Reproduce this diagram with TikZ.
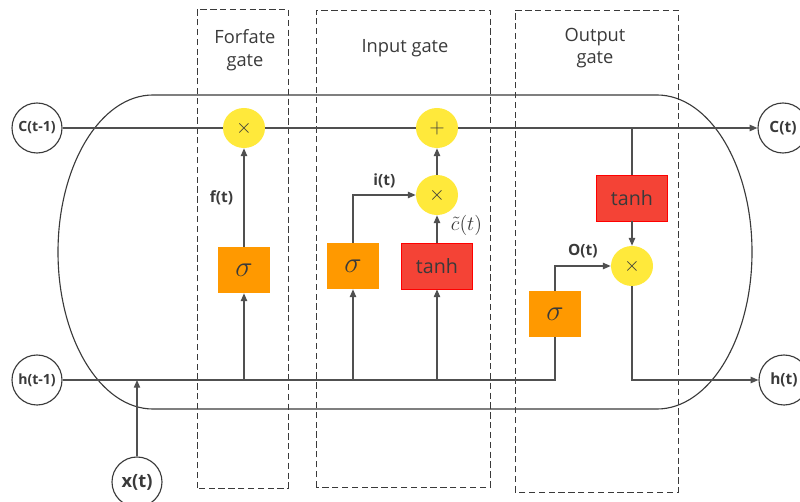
\documentclass[tikz,border=0pt]{standalone}
\usepackage{fontspec}
\setmainfont{Open Sans}
\setsansfont{Open Sans}
\usetikzlibrary{arrows.meta,positioning,calc,shapes.geometric}

\definecolor{wire}{HTML}{505050}
\definecolor{ink}{HTML}{3A3A3A}
\definecolor{opyellow}{HTML}{FFE93B}
\definecolor{sigorange}{HTML}{FF9900}
\definecolor{tanhred}{HTML}{F44336}

\begin{document}
\begin{tikzpicture}[
  x=0.025cm, y=0.025cm,
  line/.style={draw=wire, line width=0.9pt},
  arr/.style={line, -{Triangle[length=5.5pt,width=4.5pt]}},
  gatebox/.style={draw=ink, dash pattern=on 4.5pt off 2.5pt, line width=0.7pt},
  cell/.style={draw=ink, line width=0.8pt},
  state/.style={circle, draw=ink, line width=0.8pt, fill=white, minimum size=1.25cm, inner sep=0pt, text=ink, font=\fontsize{10}{12}\selectfont\bfseries},
  op/.style={ellipse, fill=opyellow, minimum width=1.05cm, minimum height=1.0cm, inner sep=0pt, text=ink, font=\fontsize{14}{16}\selectfont},
  sig/.style={fill=sigorange, minimum width=1.3cm, minimum height=1.15cm, inner sep=0pt, text=ink, font=\fontsize{22}{24}\selectfont},
  act/.style={fill=tanhred, draw=red, line width=0.5pt, minimum width=1.77cm, minimum height=1.15cm, inner sep=0pt, text=ink, font=\fontsize{14}{16}\selectfont},
  title/.style={align=center, text=ink, font=\fontsize{13}{16}\selectfont},
  lab/.style={text=ink, font=\fontsize{11}{13}\selectfont\bfseries}
]
\useasboundingbox (0,0) rectangle (800,501);

\draw[cell] (153,406) -- (657,406) arc[start angle=90, end angle=-90, x radius=95, y radius=157]
  -- (153,92) arc[start angle=270, end angle=90, x radius=95, y radius=157] -- cycle;

\draw[gatebox] (197,13) rectangle (288,492);
\draw[gatebox] (316,14) rectangle (490,491);
\draw[gatebox] (515,9) rectangle (678,491);

\node[title] at (245,451) {Forfate\\gate};
\node[title] at (405,453) {Input gate};
\node[title] at (595,453) {Output\\gate};

\node[state] (cprev) at (37,373) {C(t-1)};
\node[state] (hprev) at (37,121) {h(t-1)};
\node[state, font=\fontsize{13}{15}\selectfont\bfseries] (xt) at (137,19) {x(t)};
\node[state, font=\fontsize{11}{13}\selectfont\bfseries] (ct) at (783,373) {C(t)};
\node[state, font=\fontsize{11}{13}\selectfont\bfseries] (ht) at (784,121) {h(t)};

\node[op] (mulf) at (244,373) {$\times$};
\node[op] (addc) at (437,373) {$+$};
\node[op] (muli) at (437,306) {$\times$};
\node[op] (mulo) at (632,235) {$\times$};

\node[sig] (sigf) at (244,231) {$\sigma$};
\node[sig] (sigi) at (353,235) {$\sigma$};
\node[act] (tanhi) at (437,235) {tanh};
\node[sig] (sigo) at (555,187) {$\sigma$};
\node[act] (tanho) at (632,303) {tanh};

\coordinate (tap) at (tanho |- cprev);
\coordinate (xin) at (xt |- hprev);
\coordinate (bf) at (sigf |- hprev);
\coordinate (bi) at (sigi |- hprev);
\coordinate (bt) at (tanhi |- hprev);

\draw[line] (cprev) -- (mulf);
\draw[line] (mulf) -- (addc);
\draw[arr] (addc) -- (ct);
\draw[line] (hprev) -| (sigo);
\draw[arr] (xt) -- (xin);

\draw[arr] (bf) -- (sigf);
\draw[arr] (sigf) -- node[lab, left=4pt] {f(t)} (mulf);

\draw[arr] (bi) -- (sigi);
\draw[arr] (bt) -- (tanhi);
\draw[arr] (sigi) |- node[lab, pos=0.75, above=1pt] {i(t)} (muli);
\draw[arr] (tanhi) -- node[pos=0.62, right=9pt, inner sep=0.5pt, text=ink, font=\fontsize{14}{16}\selectfont] {$\tilde c(t)$} (muli);
\draw[arr] (muli) -- (addc);

\draw[line] (tap) -- (tanho);
\draw[arr] (tanho) -- (mulo);
\draw[arr] (sigo) |- node[lab, pos=0.75, above=2pt] {O(t)} (mulo);
\draw[arr] (mulo) |- (ht);

\end{tikzpicture}
\end{document}
